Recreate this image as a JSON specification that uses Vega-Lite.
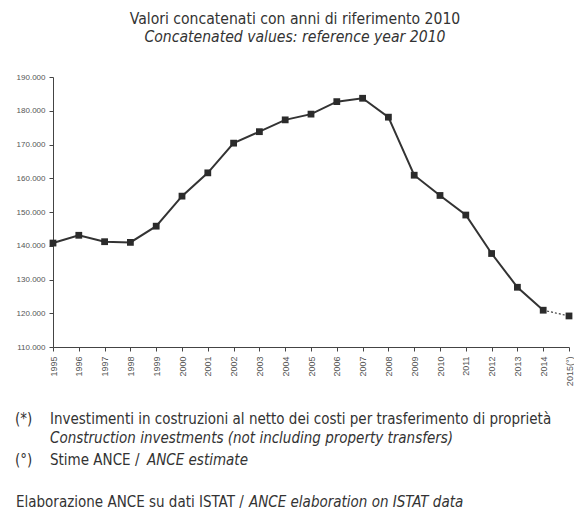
{
  "$schema": "https://vega.github.io/schema/vega-lite/v6.json",
  "width": 516,
  "height": 270,
  "autosize": {"type": "none"},
  "padding": {"left": 53, "top": 77, "right": 5, "bottom": 177},
  "background": "white",
  "title": {
    "text": "Valori concatenati con anni di riferimento 2010",
    "subtitle": "Concatenated values: reference year 2010",
    "anchor": "middle",
    "frame": "group",
    "dx": -16,
    "offset": 27,
    "font": "DejaVu Sans Condensed",
    "fontSize": 15.6,
    "fontWeight": "normal",
    "color": "#333333",
    "subtitleFont": "DejaVu Sans Condensed",
    "subtitleFontSize": 15.6,
    "subtitleFontStyle": "italic",
    "subtitleColor": "#333333",
    "subtitlePadding": 3
  },
  "datasets": {
    "investimenti": [
      {"anno": "1995", "valore": 140800},
      {"anno": "1996", "valore": 143100},
      {"anno": "1997", "valore": 141200},
      {"anno": "1998", "valore": 141000},
      {"anno": "1999", "valore": 145800},
      {"anno": "2000", "valore": 154700},
      {"anno": "2001", "valore": 161600},
      {"anno": "2002", "valore": 170400},
      {"anno": "2003", "valore": 173800},
      {"anno": "2004", "valore": 177300},
      {"anno": "2005", "valore": 179000},
      {"anno": "2006", "valore": 182700},
      {"anno": "2007", "valore": 183700},
      {"anno": "2008", "valore": 178100},
      {"anno": "2009", "valore": 160900},
      {"anno": "2010", "valore": 154900},
      {"anno": "2011", "valore": 149100},
      {"anno": "2012", "valore": 137700},
      {"anno": "2013", "valore": 127700},
      {"anno": "2014", "valore": 120900},
      {"anno": "2015(°)", "valore": 119200}
    ],
    "nota": [{}]
  },
  "config": {
    "view": {"stroke": null},
    "axis": {
      "labelFont": "Liberation Sans",
      "labelFontSize": 8,
      "labelColor": "#555555",
      "labelOverlap": false,
      "domainColor": "#444444",
      "tickColor": "#444444",
      "tickSize": 4,
      "grid": false,
      "title": null
    }
  },
  "layer": [
    {
      "data": {"name": "investimenti"},
      "transform": [{"filter": "datum.anno != '2015(°)'"}],
      "mark": {"type": "line", "color": "#333333", "strokeWidth": 2},
      "encoding": {
        "x": {
          "field": "anno",
          "type": "ordinal",
          "sort": null,
          "scale": {"type": "point", "padding": 0},
          "axis": {"labelAngle": -90, "labelPadding": 5, "labelBaseline": "middle", "labelAlign": "right", "labelFontSize": 9, "labelOverlap": false}
        },
        "y": {
          "field": "valore",
          "type": "quantitative",
          "scale": {"domain": [110000, 190000], "nice": false, "zero": false},
          "axis": {
            "values": [110000, 120000, 130000, 140000, 150000, 160000, 170000, 180000, 190000],
            "tickCount": 9,
            "labelOverlap": false,
            "labelExpr": "replace(format(datum.value, ','), ',', '.')",
            "labelPadding": 4
          }
        }
      }
    },
    {
      "data": {"name": "investimenti"},
      "transform": [{"filter": "datum.anno == '2014' || datum.anno == '2015(°)'"}],
      "mark": {"type": "line", "color": "#444444", "strokeWidth": 1.2, "strokeDash": [2, 2]},
      "encoding": {
        "x": {"field": "anno", "type": "ordinal", "sort": null},
        "y": {"field": "valore", "type": "quantitative"}
      }
    },
    {
      "data": {"name": "investimenti"},
      "mark": {"type": "point", "shape": "square", "filled": true, "size": 46, "color": "#2b2b2b", "opacity": 1},
      "encoding": {
        "x": {"field": "anno", "type": "ordinal", "sort": null},
        "y": {"field": "valore", "type": "quantitative"}
      }
    },
    {
      "data": {"name": "nota"},
      "mark": {"type": "text", "text": "(*)", "x": -38, "y": 347, "align": "left", "baseline": "alphabetic", "font": "DejaVu Sans Condensed", "fontSize": 15, "color": "#333333"}
    },
    {
      "data": {"name": "nota"},
      "mark": {"type": "text", "text": "Investimenti in costruzioni al netto dei costi per trasferimento di proprietà", "x": -3, "y": 347, "align": "left", "baseline": "alphabetic", "font": "DejaVu Sans Condensed", "fontSize": 15, "color": "#333333"}
    },
    {
      "data": {"name": "nota"},
      "mark": {"type": "text", "text": "Construction investments (not including property transfers)", "x": -3, "y": 366, "align": "left", "baseline": "alphabetic", "font": "DejaVu Sans Condensed", "fontSize": 15, "fontStyle": "italic", "color": "#333333"}
    },
    {
      "data": {"name": "nota"},
      "mark": {"type": "text", "text": "(°)", "x": -38, "y": 388, "align": "left", "baseline": "alphabetic", "font": "DejaVu Sans Condensed", "fontSize": 15, "color": "#333333"}
    },
    {
      "data": {"name": "nota"},
      "mark": {"type": "text", "text": "Stime ANCE /", "x": -3, "y": 388, "align": "left", "baseline": "alphabetic", "font": "DejaVu Sans Condensed", "fontSize": 15, "color": "#333333"}
    },
    {
      "data": {"name": "nota"},
      "mark": {"type": "text", "text": "ANCE estimate", "x": 94, "y": 388, "align": "left", "baseline": "alphabetic", "font": "DejaVu Sans Condensed", "fontSize": 15, "fontStyle": "italic", "color": "#333333"}
    },
    {
      "data": {"name": "nota"},
      "mark": {"type": "text", "text": "Elaborazione ANCE su dati ISTAT /", "x": -37, "y": 430, "align": "left", "baseline": "alphabetic", "font": "DejaVu Sans Condensed", "fontSize": 15, "color": "#333333"}
    },
    {
      "data": {"name": "nota"},
      "mark": {"type": "text", "text": "ANCE elaboration on ISTAT data", "x": 196, "y": 430, "align": "left", "baseline": "alphabetic", "font": "DejaVu Sans Condensed", "fontSize": 15, "fontStyle": "italic", "color": "#333333"}
    }
  ]
}
